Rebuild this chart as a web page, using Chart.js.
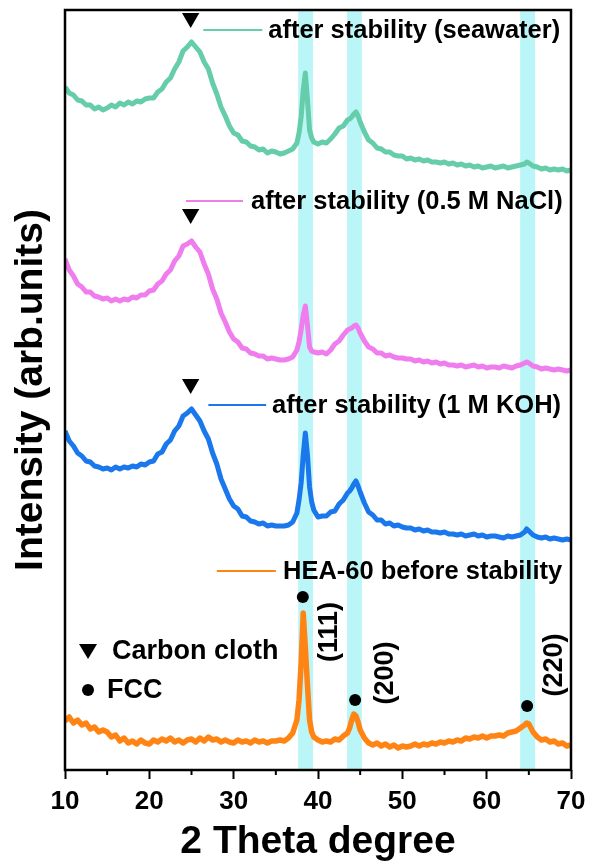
<!DOCTYPE html>
<html>
<head>
<meta charset="utf-8">
<script src="https://cdn.jsdelivr.net/npm/chart.js@4.4.1/dist/chart.umd.min.js"></script>
<style>
  html, body { margin: 0; padding: 0; background: #fff; }
  #c { display: block; }
</style>
</head>
<body>
<canvas id="c" width="589" height="867"></canvas>
<script>
// 2θ sampling (degrees)
const twoTheta = [
  10,10.5,11,11.5,12,12.5,13,13.5,14,14.5,
  15,15.5,16,16.5,17,17.5,18,18.5,19,19.5,
  20,20.5,21,21.5,22,22.5,23,23.5,24,24.5,
  25,25.5,26,26.5,27,27.5,28,28.5,29,29.5,
  30,30.5,31,31.5,32,32.5,33,33.5,34,34.5,
  35,35.5,36,36.5,37,37.5,
  37.75,38,38.25,38.5,38.75,39,39.25,39.5,
  40,40.5,41,41.5,42,42.5,43,43.5,
  43.75,44,44.25,44.5,44.75,45,45.5,
  46,46.5,47,47.5,48,48.5,49,49.5,50,50.5,
  51,51.5,52,52.5,53,53.5,54,54.5,55,55.5,
  56,56.5,57,57.5,58,58.5,59,59.5,60,60.5,
  61,61.5,62,62.5,63,63.5,64,
  64.5,64.75,65,65.5,
  66,66.5,67,67.5,68,68.5,69,69.5,70
];

// Stacked intensities (arb. units)
const seawater = [
  683,677,675,670,669,665,665,661,663,660,
  662,665,663,667,665,668,666,669,668,671,
  672,672,678,681,688,692,701,708,719,723,
  728,723,718,708,701,687,676,663,654,644,
  637,635,629,628,624,623,620,621,617,619,
  618,616,617,619,621,627,
  637,653,680,697,670,640,632,628,
  626,628,627,631,636,642,644,650,
  651,653,656,658,654,648,638,
  630,627,622,621,618,618,615,614,614,611,
  612,610,611,609,610,608,608,607,608,606,
  607,605,606,604,605,603,604,602,603,604,
  602,603,604,602,603,604,605,
  606,608,607,604,
  603,601,602,600,601,600,601,599,600
];
const nacl = [
  511,500,494,486,483,478,478,474,473,471,
  472,469,471,469,471,470,473,472,475,475,
  479,480,486,489,496,500,509,514,524,526,
  529,523,518,506,496,481,471,457,448,438,
  431,428,422,421,417,416,414,414,411,412,
  411,410,410,411,413,420,
  428,440,455,464,445,423,419,418,
  417,418,416,420,426,429,435,440,
  441,442,444,445,442,437,429,
  423,421,417,417,414,415,413,412,412,411,
  411,409,410,408,409,407,408,406,407,405,
  405,404,405,403,404,405,403,404,402,403,
  403,402,404,403,402,404,405,
  407,408,407,404,
  403,401,402,401,400,401,400,399,400
];
const koh = [
  339,329,324,317,314,309,308,304,303,301,
  302,300,303,301,303,302,304,303,306,305,
  308,309,316,318,326,330,339,344,354,357,
  361,355,349,339,331,317,306,291,281,271,
  264,261,254,253,249,248,246,247,244,245,
  244,244,244,245,248,257,
  270,287,315,337,315,283,268,260,
  253,254,254,258,259,266,270,277,
  279,282,286,289,284,278,267,
  258,255,250,250,246,247,244,245,243,242,
  242,240,241,239,240,238,238,237,238,236,
  236,235,236,234,235,236,234,235,233,234,
  234,233,232,234,233,234,235,
  238,241,239,235,
  233,232,233,231,232,231,230,231,230
];
const hea60 = [
  49,53,47,50,45,47,41,43,38,40,
  38,33,35,29,32,27,29,26,30,27,
  26,30,28,31,29,32,28,30,27,30,
  31,28,32,29,33,30,31,28,30,28,
  27,30,28,29,27,30,28,29,27,29,
  29,30,29,32,37,50,
  70,107,157,122,85,50,38,33,
  30,28,29,28,31,30,34,37,
  42,50,56,54,48,40,32,
  27,25,27,24,26,23,25,22,24,23,
  24,26,24,26,25,27,26,28,27,29,
  28,30,29,32,31,33,32,34,32,34,
  34,35,34,37,38,39,42,
  45,47,46,38,
  33,30,31,28,29,26,27,24,25
];

const seriesNames = [
  'after stability (seawater)',
  'after stability (0.5 M NaCl)',
  'after stability (1 M KOH)',
  'HEA-60 before stability'
];
const seriesColors = ['#66CDAA', '#F07DEE', '#1A78EC', '#FF8414'];

// Highlighted reflection ranges (2θ)
const bandStart = [37.65, 43.45, 63.97];
const bandEnd   = [39.40, 45.20, 65.75];

// Carbon cloth reflection markers
const carbonX = [24.9, 24.9, 24.9];
const carbonY = [752, 556, 386];

// FCC reflections
const fccX = [38.2, 44.4, 64.8];
const fccY = [173, 70, 64];
const fccLabels = ['(111)', '(200)', '(220)'];

const xTicks = [10, 20, 30, 40, 50, 60, 70];
const xMinorTicks = [15, 25, 35, 45, 55, 65];

// annotation placement (data units)
const fccLabelAt = { x: [41.2, 47.95, 67.9], y: [138, 97, 105] };
const keyLines = { x0: [26.4, 24.35, 27.0, 28.0], x1: [33.4, 31.1, 33.85, 35.0], y: [740, 569, 365, 199] };
const keyTextX = [34.1, 32.05, 34.55, 35.85];

const FONT = '"Liberation Sans", Arial, Helvetica, sans-serif';

function pts(values) {
  return values.map((v, i) => ({ x: twoTheta[i], y: v }));
}

const lineSets = [seawater, nacl, koh, hea60].map((vals, i) => ({
  type: 'line',
  label: seriesNames[i],
  data: pts(vals),
  borderColor: seriesColors[i],
  borderWidth: i === 3 ? 5.5 : 5,
  pointRadius: 0,
  tension: 0,
  fill: false,
  borderJoinStyle: 'round'
}));

const markerSets = [
  {
    type: 'scatter',
    label: 'Carbon cloth',
    data: carbonX.map((x, i) => ({ x, y: carbonY[i] })),
    pointStyle: 'triangle',
    rotation: 180,
    pointRadius: 10,
    backgroundColor: '#000',
    borderColor: '#000',
    borderWidth: 0
  },
  {
    type: 'scatter',
    label: 'FCC',
    data: fccX.map((x, i) => ({ x, y: fccY[i] })),
    pointStyle: 'circle',
    pointRadius: 6,
    backgroundColor: '#000',
    borderColor: '#000',
    borderWidth: 0
  }
];

const decor = {
  id: 'decor',
  beforeDatasetsDraw(chart) {
    const { ctx, chartArea: a, scales: { x } } = chart;
    ctx.save();
    ctx.fillStyle = 'rgb(186,246,247)';
    bandStart.forEach((s, i) => {
      const p0 = x.getPixelForValue(s), p1 = x.getPixelForValue(bandEnd[i]);
      ctx.fillRect(p0, a.top, p1 - p0, a.bottom - a.top);
    });
    ctx.restore();
  },
  afterDatasetsDraw(chart) {
    const { ctx, chartArea: a, scales: { x, y } } = chart;
    ctx.save();
    // frame
    ctx.strokeStyle = '#000';
    ctx.lineWidth = 2.5;
    ctx.strokeRect(a.left, a.top, a.right - a.left, a.bottom - a.top);
    // minor ticks
    ctx.lineWidth = 2;
    xMinorTicks.forEach(v => {
      const px = x.getPixelForValue(v);
      ctx.beginPath();
      ctx.moveTo(px, a.bottom);
      ctx.lineTo(px, a.bottom + 5);
      ctx.stroke();
    });
    // series key
    ctx.textBaseline = 'middle';
    ctx.textAlign = 'left';
    ctx.font = 'bold 25.5px ' + FONT;
    seriesNames.forEach((name, i) => {
      const py = y.getPixelForValue(keyLines.y[i]);
      ctx.strokeStyle = seriesColors[i];
      ctx.lineWidth = 2;
      ctx.beginPath();
      ctx.moveTo(x.getPixelForValue(keyLines.x0[i]), py);
      ctx.lineTo(x.getPixelForValue(keyLines.x1[i]), py);
      ctx.stroke();
      ctx.fillStyle = '#000';
      ctx.fillText(name, x.getPixelForValue(keyTextX[i]), py + 1);
    });
    // FCC plane labels
    ctx.font = 'bold 27px ' + FONT;
    ctx.textAlign = 'center';
    fccLabels.forEach((t, i) => {
      ctx.save();
      ctx.translate(x.getPixelForValue(fccLabelAt.x[i]), y.getPixelForValue(fccLabelAt.y[i]));
      ctx.rotate(-Math.PI / 2);
      ctx.fillText(t, 0, 1);
      ctx.restore();
    });
    // symbol key
    const kx = x.getPixelForValue(12.73);
    const ty = y.getPixelForValue(121);
    ctx.fillStyle = '#000';
    ctx.beginPath();
    ctx.moveTo(kx - 9, ty - 5);
    ctx.lineTo(kx + 9, ty - 5);
    ctx.lineTo(kx, ty + 10);
    ctx.closePath();
    ctx.fill();
    const dy = y.getPixelForValue(80);
    ctx.beginPath();
    ctx.arc(kx, dy, 6, 0, Math.PI * 2);
    ctx.fill();
    ctx.textAlign = 'left';
    ctx.font = 'bold 27px ' + FONT;
    ctx.fillText('Carbon cloth', x.getPixelForValue(15.58), y.getPixelForValue(118));
    ctx.fillText('FCC', x.getPixelForValue(14.98), dy + 1);
    ctx.restore();
  }
};

new Chart(document.getElementById('c'), {
  data: { datasets: [...lineSets, ...markerSets] },
  options: {
    responsive: false,
    animation: false,
    devicePixelRatio: 1,
    layout: { padding: { top: 10, right: 18, bottom: 0, left: 0 } },
    plugins: { legend: { display: false }, tooltip: { enabled: false } },
    scales: {
      x: {
        type: 'linear',
        min: 10,
        max: 70,
        afterBuildTicks(s) { s.ticks = xTicks.map(v => ({ value: v })); },
        afterFit(s) { s.height = 97; s.paddingLeft = 0; s.paddingRight = 0; },
        ticks: {
          color: '#000',
          padding: 7,
          maxRotation: 0,
          autoSkip: false,
          font: { family: FONT, weight: 'bold', size: 26 }
        },
        grid: { display: true, drawOnChartArea: false, drawTicks: true, tickLength: 9, tickWidth: 2, tickColor: '#000' },
        border: { display: false },
        title: {
          display: true,
          text: '2 Theta degree',
          color: '#000',
          padding: { top: 0, bottom: 1 },
          font: { family: FONT, weight: 'bold', size: 39 }
        }
      },
      y: {
        type: 'linear',
        min: 0,
        max: 760,
        afterFit(s) { s.width = 65; s.paddingTop = 0; s.paddingBottom = 0; },
        ticks: { display: false },
        grid: { display: false },
        border: { display: false },
        title: {
          display: true,
          text: 'Intensity (arb.units)',
          color: '#000',
          padding: { top: 8, bottom: 0 },
          font: { family: FONT, weight: 'bold', size: 39 }
        }
      }
    }
  },
  plugins: [decor]
});
</script>
</body>
</html>
